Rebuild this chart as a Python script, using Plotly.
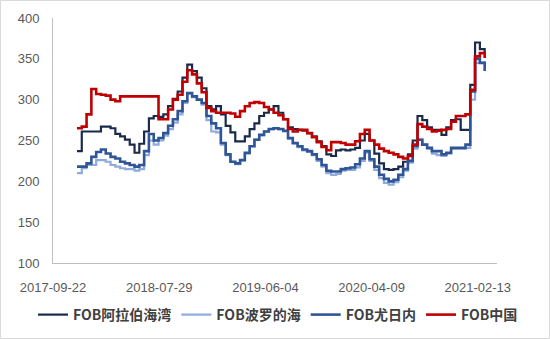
import pandas as pd
import plotly.graph_objects as go

dates = pd.date_range("2017-12-01", periods=86, freq="14D")

fob_arabian_gulf = [237, 261, 261, 261, 261, 267, 267, 265, 258, 255,
                    251, 245, 235, 246, 261, 277, 280, 279, 282, 292,
                    301, 310, 327, 343, 335, 327, 314, 292, 288, 292,
                    282, 268, 260, 249, 249, 255, 264, 271, 280, 284,
                    288, 292, 284, 276, 266, 264, 263, 262, 259, 255,
                    249, 243, 233, 231, 238, 239, 238, 239, 241, 250,
                    258, 250, 234, 222, 215, 214, 215, 218, 224, 233,
                    250, 280, 275, 266, 263, 263, 257, 266, 275, 276,
                    263, 263, 318, 370, 362, 358]

fob_baltic = [210, 216, 220, 220, 226, 226, 224, 220, 218, 216,
              215, 215, 213, 215, 232, 250, 245, 250, 256, 264,
              272, 282, 296, 308, 303, 300, 294, 275, 261, 260,
              245, 232, 224, 221, 226, 234, 243, 251, 256, 261,
              264, 265, 264, 261, 252, 246, 242, 238, 236, 232,
              225, 218, 210, 208, 209, 213, 214, 214, 217, 225,
              235, 225, 214, 204, 198, 196, 199, 205, 213, 223,
              240, 251, 245, 240, 234, 232, 231, 234, 240, 240,
              240, 241, 300, 345, 345, 347]

fob_yuzhny = [218, 218, 222, 230, 236, 239, 234, 230, 228, 224,
              222, 220, 218, 220, 237, 258, 250, 253, 259, 268,
              276, 286, 298, 308, 304, 300, 296, 280, 271, 265,
              247, 233, 224, 222, 226, 235, 243, 251, 257, 261,
              264, 265, 264, 262, 253, 247, 243, 239, 237, 233,
              227, 220, 213, 212, 212, 215, 216, 217, 221, 228,
              237, 227, 218, 208, 203, 200, 202, 208, 215, 225,
              243, 251, 245, 241, 237, 237, 233, 235, 241, 241,
              241, 245, 310, 350, 345, 335]

fob_china = [265, 267, 282, 313, 307, 306, 305, 300, 298, 304,
             304, 304, 304, 304, 304, 304, 304, 276, 276, 288,
             300, 306, 322, 336, 331, 320, 309, 290, 286, 284,
             284, 284, 283, 279, 286, 292, 296, 297, 296, 291,
             288, 284, 281, 276, 264, 261, 263, 263, 259, 254,
             248, 242, 238, 248, 248, 247, 245, 245, 249, 258,
             263, 250, 245, 240, 237, 235, 233, 230, 228, 231,
             245, 270, 267, 264, 261, 262, 263, 264, 273, 280,
             280, 282, 312, 353, 357, 351]

series_names = ["FOB阿拉伯海湾", "FOB波罗的海", "FOB尤日内", "FOB中国"]
series_values = [fob_arabian_gulf, fob_baltic, fob_yuzhny, fob_china]
colors = ["#1B2A4A", "#8FAADC", "#2F5597", "#C00000"]
widths = [2.2, 2.2, 2.6, 2.6]

tick_dates = ["2017-09-22", "2018-07-29", "2019-06-04", "2020-04-09", "2021-02-13"]
y_ticks = [100, 150, 200, 250, 300, 350, 400]

fig = go.Figure()
for name, vals, c, w in zip(series_names, series_values, colors, widths):
    fig.add_trace(go.Scatter(
        x=dates, y=vals, name=name, mode="lines",
        line=dict(color=c, width=w, shape="hv"),
    ))

W, H = 550, 339
ml, mr, mt, mb = 53, 53, 18, 76
pw, ph = W - ml - mr, H - mt - mb

fig.update_layout(
    width=W, height=H,
    margin=dict(l=ml, r=mr, t=mt, b=mb, autoexpand=False),
    paper_bgcolor="white", plot_bgcolor="white",
    font=dict(family="Liberation Sans, Arial, sans-serif", size=13, color="#595959"),
    showlegend=True,
    legend=dict(
        orientation="h", xref="paper", x=(33 - ml) / pw, xanchor="left",
        yref="paper", y=-(315 - (mt + ph)) / ph, yanchor="middle",
        font=dict(family="Noto Sans CJK SC, sans-serif", size=14, color="#404040", weight="bold"),
        itemwidth=30, tracegroupgap=0, bgcolor="rgba(0,0,0,0)",
    ),
    xaxis=dict(
        type="date", range=["2017-09-22", "2021-04-10"],
        tickmode="array", tickvals=tick_dates, ticktext=tick_dates,
        showgrid=False, zeroline=False, automargin=False,
        showline=True, linecolor="#BFBFBF", linewidth=1,
        ticks="outside", ticklen=12, tickcolor="rgba(0,0,0,0)",
    ),
    yaxis=dict(
        range=[100, 400], tickmode="array", tickvals=y_ticks,
        showgrid=False, zeroline=False, automargin=False,
        showline=True, linecolor="#BFBFBF", linewidth=1,
        ticks="outside", ticklen=10, tickcolor="rgba(0,0,0,0)",
    ),
    shapes=[dict(
        type="rect", xref="paper", yref="paper",
        x0=(-ml + 0.5) / pw, x1=(pw + mr - 0.5) / pw,
        y0=(-mb + 0.5) / ph, y1=(ph + mt - 0.5) / ph,
        line=dict(color="#D9D9D9", width=1), fillcolor="rgba(0,0,0,0)", layer="below",
    )],
)

fig.write_html("out.html")
